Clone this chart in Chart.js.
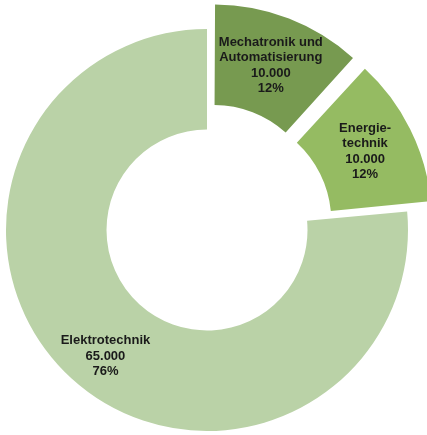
<!DOCTYPE html>
<html lang="de">
<head>
<meta charset="utf-8">
<script src="https://cdn.jsdelivr.net/npm/chart.js@4/dist/chart.umd.min.js"></script>
<style>
  html, body { margin: 0; padding: 0; background: #fff; }
  #wrap { width: 427px; height: 435px; }
</style>
</head>
<body>
<div id="wrap"><canvas id="chart"></canvas></div>
<script>
"use strict";

// Studierende nach Fachrichtung
const labelLines = [
  ["Mechatronik und", "Automatisierung"],
  ["Energie-", "technik"],
  ["Elektrotechnik"],
];
const values = [10000, 10000, 65000];
const colors = ["#779a50", "#95bb62", "#bad2a7"];
const explode = [78, 78, 0];

const total = values.reduce((a, b) => a + b, 0);
const fmt = (v) => v.toLocaleString("de-DE");

// How far ArcElement actually pushes a slice out for a given offset
function arcShift(arc) {
  const off = arc.options.offset || 0;
  const circ = arc.endAngle - arc.startAngle;
  const fix = 1 - Math.sin(Math.min(Math.PI, circ));
  return off / 4 * (1 + fix);
}

// Writes name, value and share onto each ring segment
const segmentLabels = {
  id: "segmentLabels",
  afterDatasetsDraw(chart) {
    const ctx = chart.ctx;
    const meta = chart.getDatasetMeta(0);
    const nudge = [0, 0, 15];
    ctx.save();
    ctx.font = "bold 13px 'Liberation Sans', Arial, sans-serif";
    ctx.fillStyle = "#1a1a1a";
    ctx.textAlign = "center";
    ctx.textBaseline = "middle";
    meta.data.forEach((arc, i) => {
      const mid = (arc.startAngle + arc.endAngle) / 2;
      const r = (arc.innerRadius + arc.outerRadius) / 2 + arcShift(arc);
      const px = arc.x + Math.cos(mid) * r;
      const py = arc.y + Math.sin(mid) * r;
      const lines = [...labelLines[i], fmt(values[i]), Math.round(values[i] / total * 100) + "%"];
      const lh = 15.5;
      const y0 = py + nudge[i] - (lines.length - 1) * lh / 2;
      lines.forEach((t, k) => ctx.fillText(t, px, y0 + k * lh));
    });
    ctx.restore();
  },
};

new Chart(document.getElementById("chart"), {
  type: "doughnut",
  data: {
    labels: labelLines.map((l) => l.join(" ")),
    datasets: [{
      data: values,
      backgroundColor: colors,
      borderWidth: 0,
      offset: explode,
      hoverOffset: 0,
    }],
  },
  options: {
    responsive: true,
    maintainAspectRatio: false,
    animation: false,
    radius: 201,
    cutout: "50%",
    layout: { padding: { left: 0, right: 13, top: 25, bottom: 0 } },
    plugins: {
      legend: { display: false },
      tooltip: { enabled: false },
    },
  },
  plugins: [segmentLabels],
});
</script>
</body>
</html>
